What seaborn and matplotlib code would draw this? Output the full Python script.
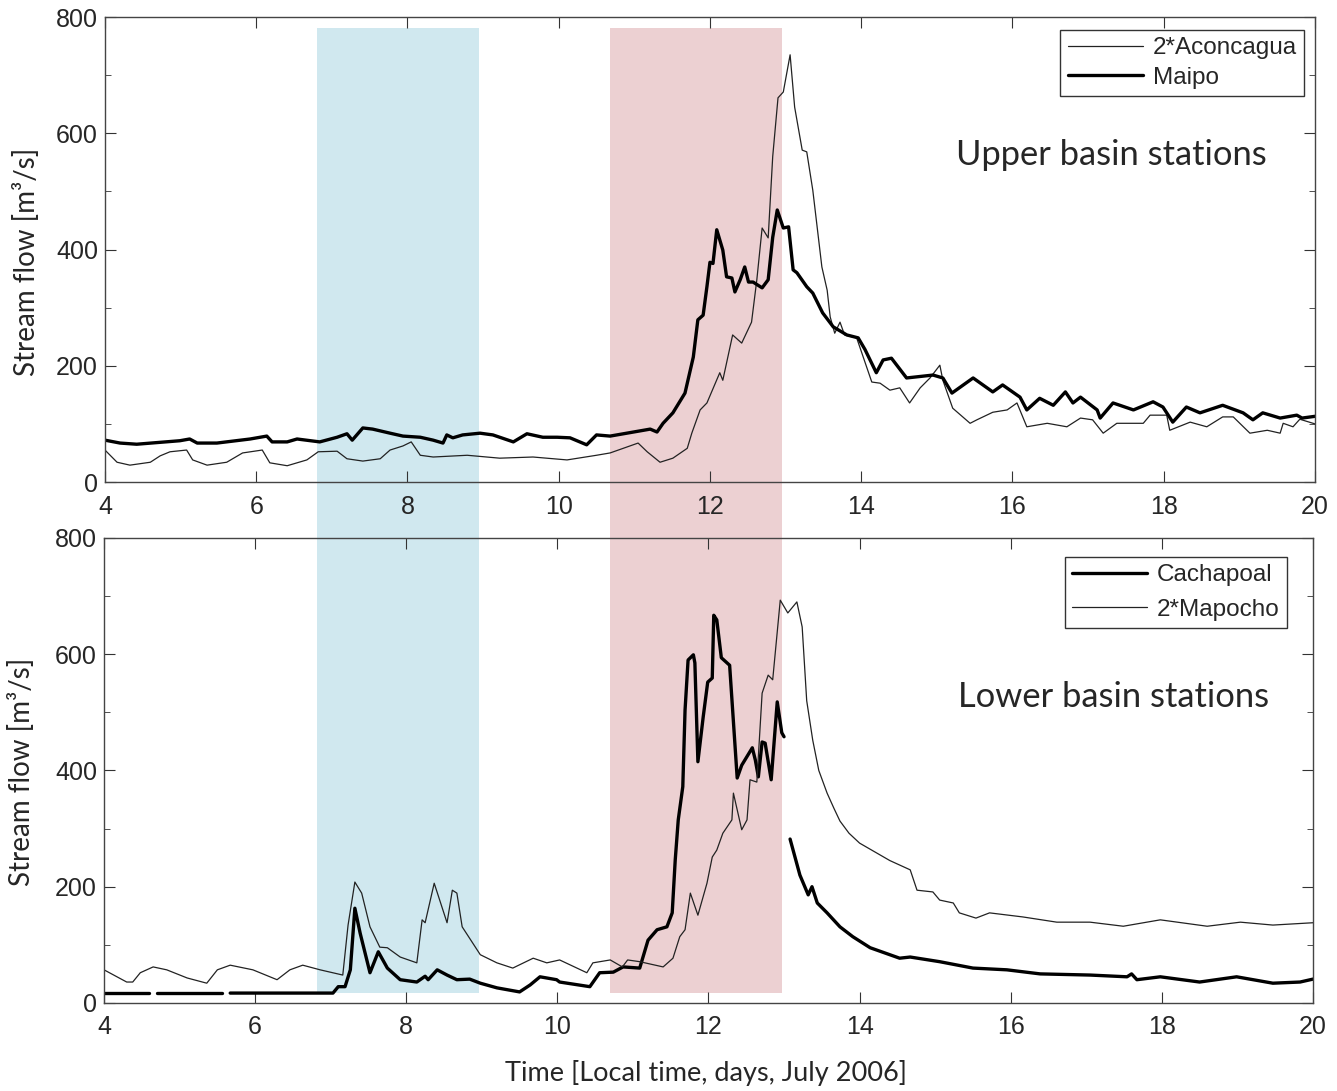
import numpy as np
import pandas as pd
import matplotlib
matplotlib.use('Agg')
import matplotlib.pyplot as plt
from matplotlib.lines import Line2D
from matplotlib.ticker import MultipleLocator
import seaborn as sns

# ---- data: (day of July 2006, stream flow m3/s) ----
# upper basin
upper_aconcagua = [  # 2*Aconcagua
    (4.00, 55), (4.16, 34), (4.33, 29), (4.60, 34), (4.73, 45), (4.86, 52), (5.08, 55), (5.16, 38),
    (5.35, 29), (5.61, 34), (5.82, 50), (6.08, 55), (6.18, 33), (6.41, 28), (6.67, 38), (6.82, 52),
    (7.07, 53), (7.20, 40), (7.41, 36), (7.64, 40), (7.77, 55), (7.94, 62), (8.05, 69), (8.17, 46),
    (8.34, 43), (8.79, 46), (9.22, 41), (9.66, 43), (10.11, 38), (10.50, 46), (10.68, 50), (11.05, 67),
    (11.17, 52), (11.34, 34), (11.51, 41), (11.70, 58), (11.76, 84), (11.87, 124), (11.96, 136),
    (12.13, 188), (12.17, 175), (12.30, 253), (12.42, 239), (12.55, 275), (12.62, 348), (12.69, 437),
    (12.77, 420), (12.83, 560), (12.90, 661), (12.97, 671), (13.06, 735), (13.12, 645), (13.22, 571),
    (13.28, 568), (13.36, 502), (13.48, 370), (13.55, 330), (13.59, 284), (13.65, 256), (13.72, 275),
    (13.78, 253), (13.94, 248), (14.14, 172), (14.25, 170), (14.38, 158), (14.51, 162), (14.64, 136),
    (14.78, 162), (14.91, 179), (15.04, 201), (15.08, 175), (15.21, 127), (15.44, 101), (15.53, 107),
    (15.74, 120), (15.93, 124), (16.06, 136), (16.19, 95), (16.46, 101), (16.72, 95), (16.90, 110),
    (17.06, 107), (17.20, 84), (17.38, 101), (17.73, 101), (17.82, 115), (18.04, 115), (18.08, 89),
    (18.35, 103), (18.57, 95), (18.78, 112), (18.92, 112), (19.14, 84), (19.37, 89), (19.54, 84),
    (19.58, 101), (19.71, 95), (19.80, 108), (20.00, 100),
]
upper_maipo = [
    (4.00, 72), (4.20, 67), (4.42, 65), (4.99, 71), (5.12, 74), (5.22, 67), (5.48, 67), (5.92, 74),
    (6.14, 79), (6.21, 69), (6.41, 69), (6.54, 74), (6.84, 69), (7.07, 77), (7.20, 83), (7.27, 72),
    (7.41, 93), (7.54, 91), (7.77, 84), (7.94, 79), (8.17, 77), (8.34, 72), (8.47, 67), (8.52, 81),
    (8.60, 76), (8.73, 81), (8.96, 84), (9.13, 81), (9.40, 69), (9.58, 83), (9.79, 77), (9.98, 77),
    (10.15, 76), (10.37, 64), (10.50, 81), (10.68, 79), (11.21, 91), (11.30, 86), (11.38, 101),
    (11.51, 119), (11.67, 153), (11.78, 215), (11.84, 279), (11.91, 287), (11.96, 336), (12.00, 378),
    (12.04, 376), (12.09, 434), (12.17, 399), (12.22, 353), (12.29, 351), (12.33, 327), (12.40, 348),
    (12.46, 370), (12.51, 344), (12.57, 344), (12.69, 334), (12.77, 348), (12.83, 421), (12.89, 468),
    (12.97, 437), (13.04, 439), (13.10, 365), (13.15, 360), (13.28, 336), (13.36, 325), (13.49, 291),
    (13.63, 267), (13.81, 253), (13.96, 248), (14.05, 228), (14.20, 188), (14.29, 210), (14.40, 213),
    (14.60, 179), (14.95, 184), (15.08, 179), (15.20, 153), (15.48, 179), (15.74, 155), (15.87, 167),
    (16.10, 146), (16.19, 124), (16.36, 144), (16.54, 132), (16.70, 155), (16.80, 136), (16.90, 146),
    (17.12, 124), (17.16, 110), (17.33, 136), (17.60, 124), (17.86, 138), (17.99, 129), (18.12, 103),
    (18.30, 129), (18.48, 119), (18.78, 132), (19.05, 119), (19.18, 107), (19.31, 119), (19.54, 110),
    (19.76, 115), (19.83, 110), (20.00, 113),
]
# lower basin (NaN = missing record)
lower_cachapoal = [
    (4.00, 17), (4.60, 17), (np.nan, np.nan), (4.70, 17), (5.56, 17), (np.nan, np.nan), (5.67, 17),
    (7.03, 17), (7.10, 28), (7.19, 28), (7.26, 57), (7.32, 163), (7.39, 120), (7.52, 52), (7.63, 88),
    (7.75, 60), (7.92, 40), (8.14, 36), (8.25, 46), (8.29, 40), (8.41, 57), (8.54, 48), (8.67, 40),
    (8.84, 41), (8.98, 34), (9.20, 26), (9.50, 19), (9.64, 31), (9.77, 45), (9.99, 40), (10.03, 36),
    (10.43, 28), (10.56, 52), (10.74, 53), (10.87, 62), (11.09, 60), (11.20, 108), (11.32, 126),
    (11.45, 131), (11.52, 155), (11.56, 246), (11.60, 315), (11.66, 372), (11.69, 504), (11.73, 590),
    (11.80, 599), (11.82, 585), (11.86, 415), (11.93, 492), (11.99, 552), (12.05, 559), (12.07, 667),
    (12.11, 659), (12.17, 594), (12.28, 581), (12.38, 387), (12.44, 409), (12.58, 439), (12.62, 418),
    (12.66, 389), (12.71, 449), (12.75, 447), (12.83, 384), (12.91, 518), (12.97, 465), (13.00, 458),
    (np.nan, np.nan),
    (13.08, 282), (13.21, 220), (13.32, 186), (13.37, 200), (13.44, 172), (13.57, 155), (13.74, 131),
    (13.91, 114), (14.14, 95), (14.53, 77), (14.67, 79), (15.06, 71), (15.50, 60), (15.95, 57),
    (16.39, 50), (17.05, 48), (17.54, 45), (17.60, 50), (17.67, 40), (17.98, 45), (18.50, 36),
    (18.99, 45), (19.47, 34), (19.83, 36), (20.00, 41),
]
lower_mapocho = [  # 2*Mapocho
    (4.00, 57), (4.30, 36), (4.38, 36), (4.48, 52), (4.65, 62), (4.83, 57), (5.10, 43), (5.36, 34),
    (5.50, 57), (5.67, 65), (5.97, 57), (6.29, 40), (6.46, 57), (6.63, 65), (6.86, 57), (7.16, 48),
    (7.23, 134), (7.32, 208), (7.41, 189), (7.52, 131), (7.65, 96), (7.75, 95), (7.92, 79), (8.14, 69),
    (8.21, 143), (8.25, 138), (8.37, 206), (8.54, 138), (8.61, 194), (8.67, 189), (8.74, 131),
    (8.98, 83), (9.20, 69), (9.41, 60), (9.68, 77), (9.86, 69), (10.03, 74), (10.39, 52), (10.47, 69),
    (10.70, 74), (10.86, 62), (10.93, 74), (11.09, 71), (11.40, 62), (11.53, 77), (11.62, 114),
    (11.69, 126), (11.76, 189), (11.86, 151), (11.98, 206), (12.05, 251), (12.11, 263), (12.19, 292),
    (12.31, 315), (12.33, 361), (12.44, 298), (12.51, 315), (12.55, 384), (12.64, 380), (12.71, 533),
    (12.79, 564), (12.85, 556), (12.95, 693), (13.05, 671), (13.17, 690), (13.24, 647), (13.30, 520),
    (13.38, 452), (13.46, 400), (13.57, 361), (13.66, 335), (13.74, 313), (13.86, 292), (14.00, 275),
    (14.20, 260), (14.40, 245), (14.67, 229), (14.76, 194), (14.97, 191), (15.06, 177), (15.24, 172),
    (15.32, 155), (15.54, 146), (15.72, 155), (16.16, 148), (16.61, 139), (17.05, 139), (17.49, 132),
    (17.98, 143), (18.60, 132), (19.04, 139), (19.47, 134), (20.00, 138),
]
# highlighted periods (days)
period_start = [6.80, 10.68]
period_end = [8.95, 12.95]
period_colors = ['#d0e8ef', '#ecd0d2']


def to_frame(points):
    df = pd.DataFrame(points, columns=['day', 'flow'])
    df['seg'] = df['flow'].isna().cumsum()   # break the line at missing values
    return df.dropna()


sns.set_style('ticks')
plt.rcParams['font.family'] = ['Liberation Sans', 'DejaVu Sans']
label_font = ['Lato', 'DejaVu Sans']

fig = plt.figure(figsize=(13.37, 10.91), dpi=100)

# shaded periods spanning both panels
bg = fig.add_axes([0.0785, 0, 0.905, 1])
bg.set_xlim(4, 20)
bg.set_ylim(0, 1)
bg.axis('off')
for s, e, c in zip(period_start, period_end, period_colors):
    bg.axvspan(s, e, ymin=0.0898, ymax=0.9743, color=c, lw=0)

ax_top = fig.add_axes([0.0785, 0.5582, 0.905, 0.4262])
ax_bot = fig.add_axes([0.0778, 0.0807, 0.9042, 0.4262])

thin = dict(color='#222222', linewidth=0.9)
thick = dict(color='black', linewidth=2.4)

panels = [
    (ax_top, [(upper_aconcagua, thin, '2*Aconcagua'), (upper_maipo, thick, 'Maipo')],
     'Upper basin stations', (0.96, 0.703), (0.991, 0.972), (-0.054, 0.473), 0.3),
    (ax_bot, [(lower_cachapoal, thick, 'Cachapoal'), (lower_mapocho, thin, '2*Mapocho')],
     'Lower basin stations', (0.9636, 0.658), (0.9785, 0.959), (-0.057, 0.497), 0.5),
]

for ax, series, title, tpos, lpos, ylpos, lspace in panels:
    ax.set_facecolor('none')
    handles, labels = [], []
    for pts, style, name in series:
        df = to_frame(pts)
        sns.lineplot(data=df, x='day', y='flow', units='seg', estimator=None,
                     ax=ax, legend=False, **style)
        handles.append(Line2D([], [], **style))
        labels.append(name)
    ax.set_xlim(4, 20)
    ax.set_ylim(0, 800)
    ax.xaxis.set_major_locator(MultipleLocator(2))
    ax.yaxis.set_major_locator(MultipleLocator(200))
    ax.yaxis.set_minor_locator(MultipleLocator(100))
    ax.tick_params(which='both', direction='in', top=True, right=True, color='#333333')
    ax.tick_params(which='major', length=8, labelsize=18, pad=5)
    ax.tick_params(axis='x', which='major', pad=9)
    ax.tick_params(which='minor', length=4.5)
    for sp in ax.spines.values():
        sp.set_color('#444444')
        sp.set_linewidth(1.0)
    ax.set_xlabel('')
    ax.set_ylabel('Stream flow [m³/s]', fontsize=20, family=label_font)
    ax.yaxis.set_label_coords(*ylpos)
    ax.text(*tpos, title, transform=ax.transAxes, ha='right', va='center',
            fontsize=24.8, family=label_font)
    leg = ax.legend(handles, labels, loc='upper right', bbox_to_anchor=lpos, frameon=True,
                    fancybox=False, framealpha=1, edgecolor='#333333', fontsize=17.5,
                    handlelength=3.1, handletextpad=0.4, labelspacing=lspace,
                    borderpad=0.3, borderaxespad=0)
    leg.get_frame().set_linewidth(1.0)

fig.text(0.528, 0.0165, 'Time [Local time, days, July 2006]', ha='center', va='center',
         fontsize=19.5, family=label_font)

fig.savefig('out.png', dpi=100)
